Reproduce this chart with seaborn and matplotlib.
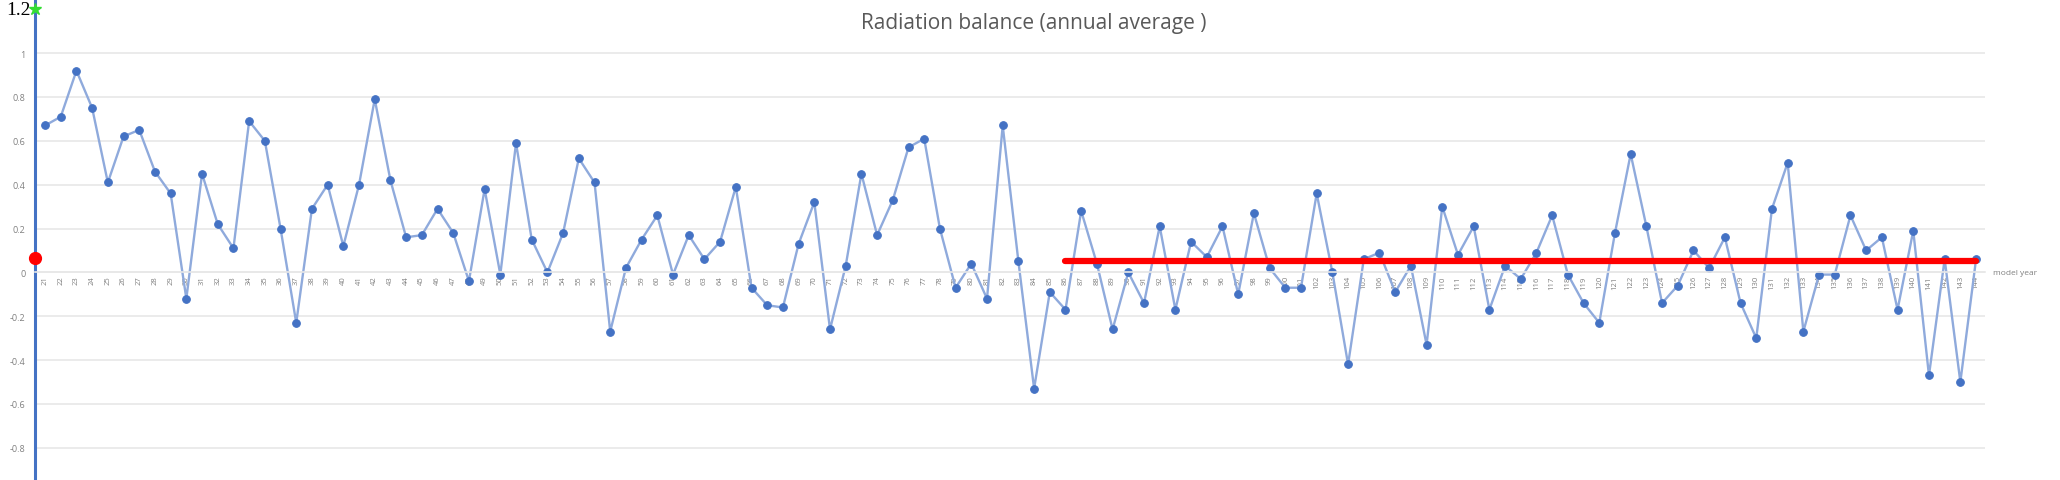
import matplotlib
matplotlib.use("Agg")
import matplotlib.pyplot as plt
import matplotlib.transforms as mtransforms
import seaborn as sns


model_years = list(range(21, 145))

radiation_balance = [
    0.67, 0.71, 0.92, 0.75, 0.41, 0.62, 0.65, 0.46, 0.36, -0.12,   # 21-30
    0.45, 0.22, 0.11, 0.69, 0.60, 0.20, -0.23, 0.29, 0.40, 0.12,   # 31-40
    0.40, 0.79, 0.42, 0.16, 0.17, 0.29, 0.18, -0.04, 0.38, -0.01,  # 41-50
    0.59, 0.15, 0.00, 0.18, 0.52, 0.41, -0.27, 0.02, 0.15, 0.26,   # 51-60
    -0.01, 0.17, 0.06, 0.14, 0.39, -0.07, -0.15, -0.16, 0.13, 0.32,  # 61-70
    -0.26, 0.03, 0.45, 0.17, 0.33, 0.57, 0.61, 0.20, -0.07, 0.04,  # 71-80
    -0.12, 0.67, 0.05, -0.53, -0.09, -0.17, 0.28, 0.04, -0.26, 0.00,  # 81-90
    -0.14, 0.21, -0.17, 0.14, 0.07, 0.21, -0.10, 0.27, 0.02, -0.07,  # 91-100
    -0.07, 0.36, 0.00, -0.42, 0.06, 0.09, -0.09, 0.03, -0.33, 0.30,  # 101-110
    0.08, 0.21, -0.17, 0.03, -0.03, 0.09, 0.26, -0.01, -0.14, -0.23,  # 111-120
    0.18, 0.54, 0.21, -0.14, -0.06, 0.10, 0.02, 0.16, -0.14, -0.30,  # 121-130
    0.29, 0.50, -0.27, -0.01, -0.01, 0.26, 0.10, 0.16, -0.17, 0.19,  # 131-140
    -0.47, 0.06, -0.50, 0.06,                                      # 141-144
]

# red reference level drawn over the later years
trend_years = [86, 144]
trend_level = [0.05, 0.05]

# the two markers sitting on the y axis
axis_mean_value = 0.064
axis_top_value = 1.2

y_ticks = [-0.8, -0.6, -0.4, -0.2, 0, 0.2, 0.4, 0.6, 0.8, 1]
y_tick_labels = ["-0.8", "-0.6", "-0.4", "-0.2", "0", "0.2", "0.4", "0.6", "0.8", "1"]


sns.set_theme(style="white")
plt.rcParams["font.family"] = ["Open Sans", "DejaVu Sans"]

fig = plt.figure(figsize=(20.6, 4.81), dpi=100)
ax = fig.add_axes([35 / 2060, 0, 1950 / 2060, 1])

sns.lineplot(x=model_years, y=radiation_balance, ax=ax, color="#8FAADC", linewidth=1.7,
             marker="o", markersize=5.5, markerfacecolor="#4472C4", markeredgecolor="#4472C4")
sns.lineplot(x=trend_years, y=trend_level, ax=ax, color="#FF0000", linewidth=4.5)

ax.set_xlim(20.36, 144.57)
ax.set_ylim(-0.947, 1.247)

# spine position first: moving it resets the tick objects
for side in ["top", "right"]:
    ax.spines[side].set_visible(False)
ax.spines["bottom"].set_position(("data", 0))
ax.spines["bottom"].set_color("#E8E8E8")
ax.spines["bottom"].set_linewidth(1.2)
ax.spines["left"].set_color("#4472C4")
ax.spines["left"].set_linewidth(2.2)

ax.set_yticks(y_ticks)
ax.set_yticklabels(y_tick_labels, fontsize=6.5, color="#808080")
ax.set_xticks(model_years)
ax.set_xticklabels([str(y) for y in model_years], rotation=90, fontsize=5.5, color="#7F7F7F")
ax.tick_params(axis="both", length=0)
ax.tick_params(axis="x", pad=2)
ax.tick_params(axis="y", pad=7)

ax.yaxis.grid(True, color="#E8E8E8", linewidth=1.2)
ax.xaxis.grid(False)
ax.set_axisbelow(True)

x0 = ax.get_xlim()[0]
ax.plot([x0], [axis_mean_value], marker="o", markersize=8.5, color="#FF0000",
        clip_on=False, zorder=5)
ax.plot([x0], [axis_top_value], marker="*", markersize=9, color="#33DD33",
        clip_on=False, zorder=5)
ax.annotate("1.2", xy=(x0, axis_top_value), xytext=(-3, 0), textcoords="offset points",
            ha="right", va="center", fontsize=14, family="Liberation Serif", color="black")

blend = mtransforms.blended_transform_factory(ax.transAxes, ax.transData)
ax.text(1.004, 0, "model year", transform=blend, ha="left", va="center",
        fontsize=6, color="#808080")

fig.text(1034 / 2060, 1 - 24 / 481, "Radiation balance (annual average )",
         ha="center", va="center", fontsize=15, color="#595959")

fig.savefig("out.png", dpi=100)
